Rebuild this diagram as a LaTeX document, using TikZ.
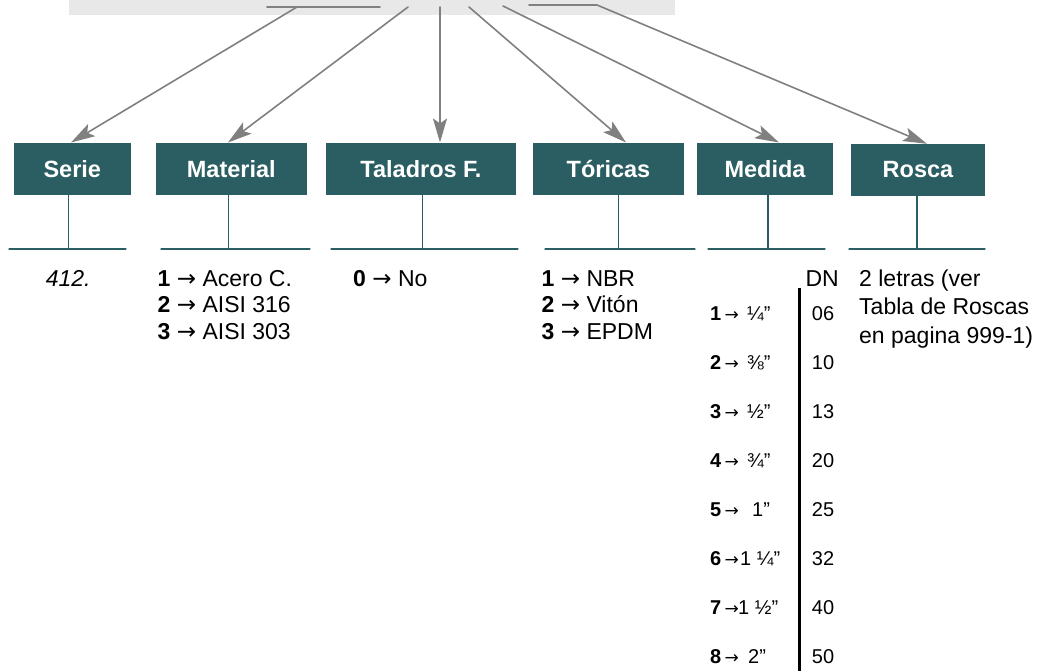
\documentclass[tikz,border=0pt]{standalone}
\usepackage{fontspec}
\setmainfont{Liberation Sans}
\newfontfamily\arrowfont{DejaVu Sans}
\usetikzlibrary{arrows.meta}
\newcommand{\goesto}{{\arrowfont →}}
\definecolor{petrol}{HTML}{2B5E62}
\definecolor{feedgray}{HTML}{808080}
\definecolor{bandgray}{HTML}{E8E8E8}
\tikzset{
  field/.style={fill=petrol, text=white, font=\fontsize{23.5}{28}\selectfont\bfseries, minimum height=52, inner sep=0pt},
  feed/.style={draw=feedgray, line width=1.6pt},
  stem/.style={draw=petrol, line width=1.3pt},
  opts/.style={font=\fontsize{23}{26.5}\selectfont, align=left, anchor=base west, inner sep=0pt},
  dnrow/.style={font=\fontsize{20}{24}\selectfont, inner sep=0pt, anchor=base west}
}

\begin{document}
\begin{tikzpicture}[line cap=round,line join=round,>={Stealth[length=24pt,width=14pt,inset=5pt]},x=1pt,y=-1pt]
    \useasboundingbox (0,0) rectangle (1052,671);
    \fill[bandgray] (69,0) rectangle (675,15);
    \draw[feed] (267,7) -- (380,7);
    \draw[feed] (529,5) -- (597,5);
    \coordinate (o1) at (297,7);
    \coordinate (o2) at (408,7);
    \coordinate (o3) at (440,7);
    \coordinate (o4) at (469,7);
    \coordinate (o5) at (503,6);
    \coordinate (o6) at (597,5);

    \node[field, minimum width=117] (serie) at (72.3,168.7) {Serie};
    \node[field, minimum width=151] (material) at (231.3,168.7) {Material};
    \node[field, minimum width=190] (taladros) at (421,168.7) {Taladros F.};
    \node[field, minimum width=151] (toricas) at (608.5,168.7) {Tóricas};
    \node[field, minimum width=136] (medida) at (765,168.7) {Medida};
    \node[field, minimum width=134] (rosca) at (918,170) {Rosca};

    % Edges
    \foreach \source/\target/\tx in {o1/serie/71, o2/material/228, o3/taladros/440, o4/toricas/626, o5/medida/779, o6/rosca/927} {
            \draw[feed, ->] (\source) -- (\target.north -| \tx,0);
        }

    % stems and base lines
    \foreach \fld/\fx/\l/\r in {serie/68.3/9/126, material/228.3/161/310, taladros/422.6/331/518, toricas/618.7/545/695, medida/768/708/825, rosca/917/849/985} {
            \draw[stem] (\fld.south -| \fx,0) -- (\fx,249);
            \draw[stem] (\l,249) -- (\r,249);
        }

    \node[opts, font=\fontsize{23}{29}\selectfont\itshape] (serie-val) at (45.6,286) {412.};
    \node[opts] (material-val) at (157.5,339) {\textbf{1} \goesto{} Acero C.\\\textbf{2} \goesto{} AISI 316\\\textbf{3} \goesto{} AISI 303};
    \node[opts] (taladros-val) at (353,286) {\textbf{0} \goesto{} No};
    \node[opts] (toricas-val) at (541.5,339) {\textbf{1} \goesto{} NBR\\\textbf{2} \goesto{} Vitón\\\textbf{3} \goesto{} EPDM};
    \node[opts, anchor=base east] (dn) at (839,286) {DN};
    \node[opts, font=\fontsize{23}{28.5}\selectfont] (rosca-val) at (859,343) {2 letras (ver\\Tabla de Roscas\\en pagina 999-1)};

    \coordinate (rule-top) at (799,288);
    \draw[line width=3pt, line cap=butt] (rule-top) -- (799,671);

    \foreach \k/\sz/\num/\fx [count=\i from 0] in {1/{¼”}/06/747, 2/{⅜”}/10/747, 3/{½”}/13/747, 4/{¾”}/20/747, 5/{1”}/25/752, 6/{1 ¼”}/32/740, 7/{1 ½”}/40/738, 8/{2”}/50/748} {
            \node[dnrow] (k\i) at (710,{320+49*\i}) {\textbf{\k}\,{\fontsize{17}{20}\selectfont\goesto}};
            \node[dnrow] (v\i) at (\fx,{320+49*\i}) {\sz};
            \node[dnrow, anchor=base] (n\i) at (823,{320+49*\i}) {\num};
        }
\end{tikzpicture}
\end{document}
